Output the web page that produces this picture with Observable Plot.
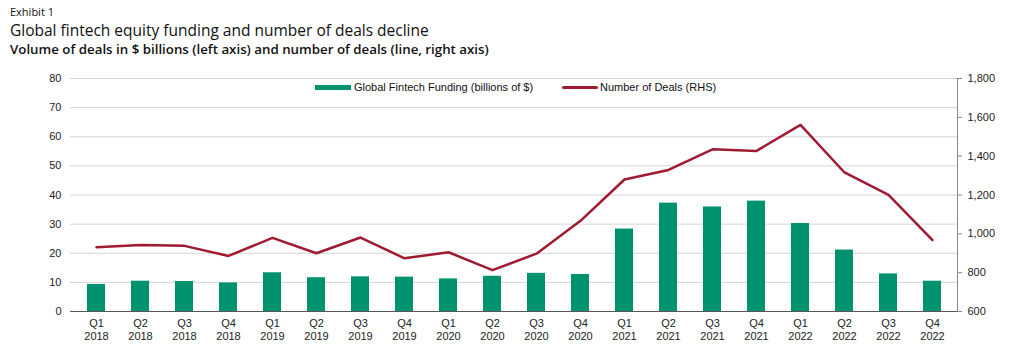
<!DOCTYPE html>
<html>
<head>
<meta charset="utf-8">
<script src="https://cdn.jsdelivr.net/npm/d3@7"></script>
<script src="https://cdn.jsdelivr.net/npm/@observablehq/plot@0.6"></script>
<style>
  html, body { margin: 0; padding: 0; background: #fff; }
  #wrap { position: relative; width: 1013px; height: 352px; overflow: hidden; }
  .hdr { position: absolute; left: 10px; font-family: "Open Sans", "Noto Sans", sans-serif; color: #111; white-space: nowrap; }
  #exhibit { top: 4px; font-size: 11px; }
  #title { top: 19px; font-size: 15.5px; }
  #subtitle { top: 40px; font-size: 13.3px; font-weight: 600; }
  #chart { position: absolute; left: 0; top: 62px; }
  .leg { position: absolute; font-family: "Liberation Sans", Arial, sans-serif; font-size: 11px; color: #111; white-space: nowrap; }
  .sw { position: absolute; }
</style>
</head>
<body>
<div id="wrap">
  <div class="hdr" id="exhibit">Exhibit 1</div>
  <div class="hdr" id="title">Global fintech equity funding and number of deals decline</div>
  <div class="hdr" id="subtitle">Volume of deals in $ billions (left axis) and number of deals (line, right axis)</div>
  <div id="chart"></div>
  <div class="sw" style="left:315px; top:85px; width:36px; height:5px; background:#00916e;"></div>
  <div class="leg" style="left:354px; top:81px;">Global Fintech Funding (billions of $)</div>
  <div class="sw" style="left:562px; top:86px; width:36px; height:3px; background:#a01a31; border-radius:2px;"></div>
  <div class="leg" style="left:600px; top:81px;">Number of Deals (RHS)</div>
</div>
<script>
const quarters = ["Q1 2018","Q2 2018","Q3 2018","Q4 2018","Q1 2019","Q2 2019","Q3 2019","Q4 2019","Q1 2020","Q2 2020","Q3 2020","Q4 2020","Q1 2021","Q2 2021","Q3 2021","Q4 2021","Q1 2022","Q2 2022","Q3 2022","Q4 2022"];
const funding = [9.3,10.4,10.3,9.8,13.3,11.6,11.9,11.8,11.2,12.1,13.1,12.7,28.3,37.2,35.9,37.9,30.2,21.1,12.9,10.4];
const deals = [931,943,938,886,979,900,981,874,905,813,898,1067,1280,1329,1435,1427,1561,1316,1201,968];
const leftTicks = [0,10,20,30,40,50,60,70,80];
const rightTicks = [600,800,1000,1200,1400,1600,1800];

const leftMax = 80, rightMin = 600, rightMax = 1800;
const toLeft = v => (v - rightMin) / (rightMax - rightMin) * leftMax;
const fromLeft = v => rightMin + v / leftMax * (rightMax - rightMin);

const rows = quarters.map((q, i) => ({q, funding: funding[i], deals: deals[i], dealsL: toLeft(deals[i])}));

const chart = Plot.plot({
  width: 1013,
  height: 290,
  marginTop: 16,
  marginBottom: 41,
  marginLeft: 70,
  marginRight: 56,
  style: {fontFamily: "'Liberation Sans', Arial, sans-serif", fontSize: "11px", color: "#222", background: "#fff"},
  x: {domain: quarters, paddingInner: 0.6, paddingOuter: 0.3, label: null},
  y: {domain: [0, leftMax], label: null},
  marks: [
    Plot.gridY(leftTicks.filter(d => d > 0), {stroke: "#d4d4d4", strokeOpacity: 1}),
    Plot.barY(rows, {x: "q", y: "funding", fill: "#00916e"}),
    Plot.lineY(rows, {x: "q", y: "dealsL", stroke: "#a01a31", strokeWidth: 2.5}),
    Plot.frame({anchor: "bottom", stroke: "#555"}),
    Plot.frame({anchor: "right", stroke: "#888"}),
    Plot.axisY({anchor: "left", ticks: leftTicks, tickSize: 0, tickPadding: 9, label: null}),
    Plot.axisY({anchor: "right", ticks: rightTicks.map(toLeft), tickSize: 4, tickPadding: 6, stroke: "#888",
      tickFormat: d => d3.format(",")(Math.round(fromLeft(d))), label: null}),
    Plot.axisX({tickSize: 0, tickPadding: 6, lineHeight: 1.2, tickFormat: d => d.replace(" ", "\n"), label: null})
  ]
});
document.getElementById("chart").appendChild(chart);
</script>
</body>
</html>
